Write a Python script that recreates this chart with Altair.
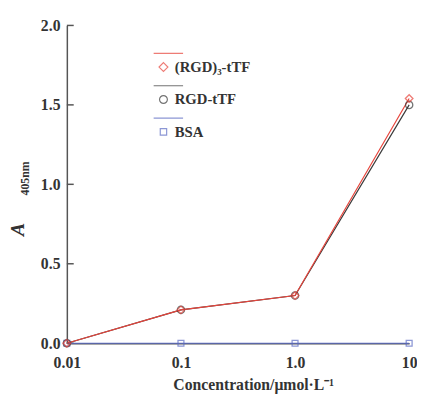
import altair as alt
import pandas as pd

conc = [0.01, 0.1, 1.0, 10.0]
rgd3 = [0.0, 0.21, 0.30, 1.54]
rgd1 = [0.0, 0.21, 0.30, 1.50]
bsa = [0.0, 0.0, 0.0, 0.0]
series_names = ["(RGD)\u2083-tTF", "RGD-tTF", "BSA"]
line_colors = ["#e8453c", "#3a3a3a", "#5c6cc4"]
y_ticks = [0.0, 0.5, 1.0, 1.5, 2.0]
x_ticks = [0.01, 0.1, 1.0, 10.0]

rows = []
for name, vals in zip(series_names, [rgd3, rgd1, bsa]):
    for c, v in zip(conc, vals):
        rows.append({"series": name, "conc": c, "A": v})
df = pd.DataFrame(rows)

FONT = "Liberation Serif"

xs = alt.X("conc:Q", scale=alt.Scale(type="log", domain=[0.01, 10], nice=False),
           axis=alt.Axis(values=x_ticks, labelExpr="datum.value == 1 ? '1.0' : '' + datum.value",
                         ticks=False, grid=False, labelPadding=12, labelFlush=False,
                         domainColor="#555", domainWidth=1.5,
                         title="Concentration/\u03bcmol\u00b7L\u207b\u00b9",
                         titlePadding=6, titleFont=FONT, titleFontSize=16, titleFontWeight="bold",
                         titleColor="#333", titleX=190))
ys = alt.Y("A:Q", scale=alt.Scale(domain=[0, 2], nice=False),
           axis=alt.Axis(values=y_ticks, format=".1f", ticks=False, grid=False, labelPadding=7,
                         labelFlush=False, domainColor="#555", domainWidth=1.5, title=None))

base = alt.Chart(df)
layers = []
order = [2, 1, 0]
shapes = ["diamond", "circle", "square"]
sizes = [60, 55, 36]
for i in order:
    name = series_names[i]
    sub = base.transform_filter(alt.datum.series == name)
    layers.append(sub.mark_line(strokeWidth=1.2, color=line_colors[i], clip=False).encode(x=xs, y=ys))
for i in order:
    name = series_names[i]
    sub = base.transform_filter(alt.datum.series == name)
    layers.append(sub.mark_point(shape=shapes[i], size=sizes[i], filled=False, strokeWidth=1.3,
                                 color=line_colors[i], clip=False).encode(x=xs, y=ys))

tick_df = pd.DataFrame({"t": y_ticks})
ticks = alt.Chart(tick_df).mark_rule(color="#555", strokeWidth=1.5).encode(
    y=alt.Y("t:Q", scale=alt.Scale(domain=[0, 2], nice=False)),
    x=alt.value(0), x2=alt.value(7))

legend_paths = [
    "M-2,-2.8H4 M0,-0.9L0.9,0L0,0.9L-0.9,0Z",
    "M-2,-2.8H4 M0.8,0A0.8,0.8,0,1,1,-0.8,0A0.8,0.8,0,1,1,0.8,0Z",
    "M-2,-2.8H4 M-0.65,-0.65H0.65V0.65H-0.65Z",
]
leg = dict(title=None, orient="none", legendX=91, legendY=35,
           symbolSize=100, symbolStrokeWidth=1.2, labelFont=FONT,
           labelFontSize=15, labelFontWeight="bold", labelColor="#333",
           labelOffset=4, rowPadding=8)
legend_layer = base.transform_filter("false").mark_point(filled=False).encode(
    x=xs, y=ys,
    color=alt.Color("series:N", scale=alt.Scale(domain=series_names, range=line_colors),
                    legend=alt.Legend(**leg)),
    shape=alt.Shape("series:N", scale=alt.Scale(domain=series_names, range=legend_paths),
                    legend=alt.Legend(**leg)),
)

title_a = alt.Chart(tick_df.head(1)).mark_text(text="A", angle=270, font=FONT, fontSize=20,
                                              fontStyle="italic", fontWeight="bold", color="#333").encode(
    x=alt.value(-50), y=alt.value(208))
title_sub = alt.Chart(tick_df.head(1)).mark_text(text="405nm", angle=270, font=FONT, fontSize=12,
                                                fontWeight="bold", color="#333").encode(
    x=alt.value(-43), y=alt.value(156))

chart = alt.layer(ticks, *layers, legend_layer, title_a, title_sub).properties(
    width=349, height=324, autosize="none",
    padding={"left": 60, "top": 14, "right": 8, "bottom": 48},
).configure_view(stroke=None).configure_axis(
    labelFont=FONT, labelFontSize=16, labelFontWeight="bold", labelColor="#333"
)

chart.save("out.html", embed_options={"renderer": "svg", "actions": False})
